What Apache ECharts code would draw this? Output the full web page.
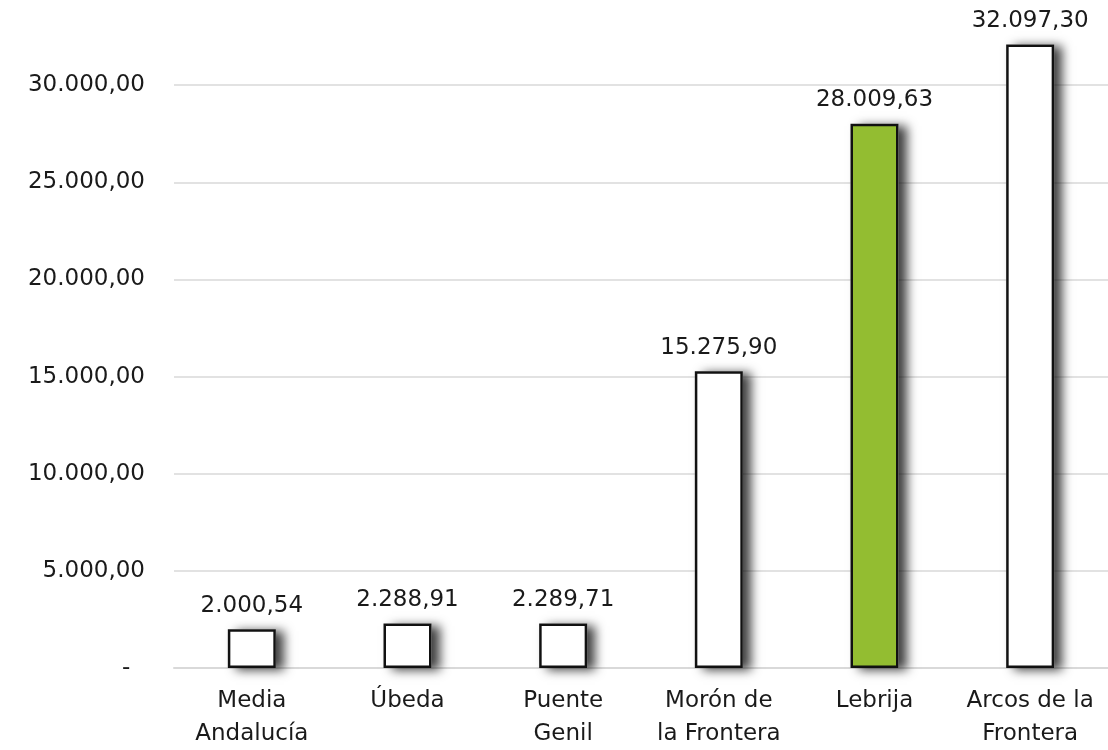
<!DOCTYPE html>
<html>
<head>
<meta charset="utf-8">
<style>
  html, body { margin: 0; padding: 0; background: #ffffff; }
  #chart { width: 1108px; height: 750px; }
</style>
<script src="https://cdn.jsdelivr.net/npm/echarts@6/dist/echarts.min.js"></script>
</head>
<body>
<div id="chart"></div>
<script>
// Municipalities compared against the Andalusian average
const categories = ['Media\nAndalucía', 'Úbeda', 'Puente\nGenil', 'Morón de\nla Frontera', 'Lebrija', 'Arcos de la\nFrontera'];
const values = [2000.54, 2288.91, 2289.71, 15275.90, 28009.63, 32097.30];
const highlighted = 'Lebrija';

const FONT = '"DejaVu Sans", "Open Sans", sans-serif';
const FONT_SIZE = 23;

// Spanish number format: thousands with ".", decimals with ","
function fmt(v) {
  if (v === 0) return '-  ';
  const parts = v.toFixed(2).split('.');
  const intPart = parts[0].replace(/\B(?=(\d{3})+(?!\d))/g, '.');
  return intPart + ',' + parts[1];
}

const chart = echarts.init(document.getElementById('chart'));
chart.setOption({
  animation: false,
  backgroundColor: '#ffffff',
  grid: {
    left: 174, right: 0, top: -12, bottom: 82,
    containLabel: false, outerBoundsMode: 'none'
  },
  xAxis: {
    type: 'category',
    data: categories,
    axisLine: { show: true, lineStyle: { color: '#d9d9d9', width: 2 } },
    axisTick: { show: false },
    axisLabel: {
      color: '#1a1a1a', fontFamily: FONT, fontSize: FONT_SIZE, lineHeight: 33,
      margin: 17, interval: 0
    }
  },
  yAxis: {
    type: 'value',
    min: 0, max: 35000, interval: 5000,
    axisLine: { show: false },
    axisTick: { show: false },
    splitLine: { lineStyle: { color: '#d9d9d9', width: 1.5 } },
    axisLabel: {
      color: '#1a1a1a', fontFamily: FONT, fontSize: FONT_SIZE, margin: 29,
      formatter: fmt
    }
  },
  series: [
    {
      // soft drop shadow behind each bar
      type: 'bar',
      barWidth: 48,
      silent: true,
      data: values,
      itemStyle: {
        color: '#ffffff',
        shadowColor: 'rgba(0,0,0,0.75)',
        shadowBlur: 10,
        shadowOffsetX: 8,
        shadowOffsetY: 2
      },
      z: 1
    },
    {
      type: 'bar',
      barWidth: 48,
      barGap: '-100%',
      data: values.map((v, i) => ({
        value: v,
        itemStyle: {
          color: categories[i] === highlighted ? '#93bd31' : '#ffffff'
        }
      })),
      itemStyle: {
        borderColor: '#111111',
        borderWidth: 2.5
      },
      label: {
        show: true, position: 'top', distance: 12,
        color: '#1a1a1a', fontFamily: FONT, fontSize: FONT_SIZE,
        formatter: p => fmt(p.value)
      },
      z: 2
    }
  ]
});
</script>
</body>
</html>
